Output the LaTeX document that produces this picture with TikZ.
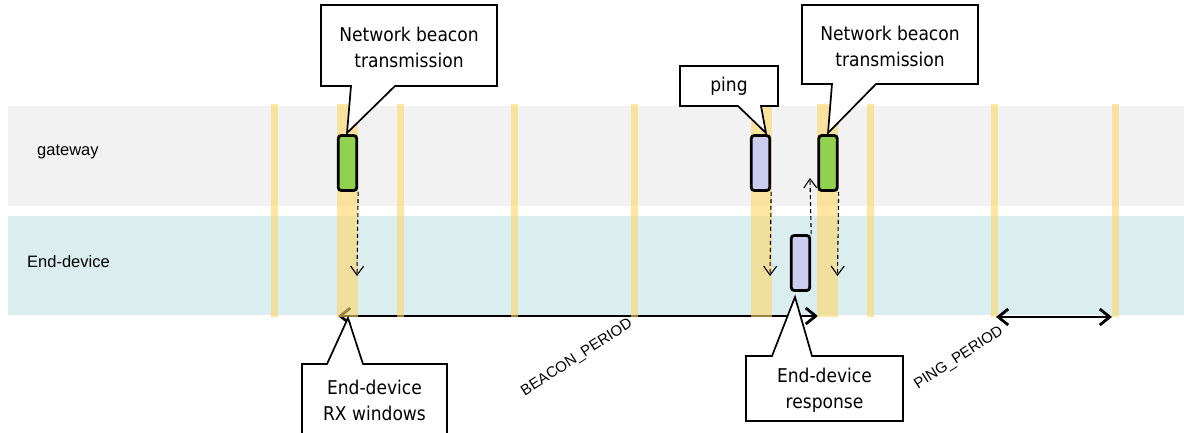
\documentclass[tikz,border=0pt]{standalone}
\usepackage{fontspec}
\setmainfont{Liberation Sans}
\newfontfamily\callfont{DejaVu Sans Condensed}
\usetikzlibrary{arrows.meta}
\definecolor{gwgrey}{RGB}{242,242,242}
\definecolor{edblue}{RGB}{218,237,239}
\definecolor{beacongreen}{RGB}{146,208,80}
\definecolor{pinglav}{RGB}{204,205,238}
\definecolor{baryellow}{RGB}{255,214,102}
\begin{document}
\begin{tikzpicture}[x=1pt,y=-1pt,
  bar/.style={fill=baryellow, fill opacity=0.6, draw=none},
  msg/.style={draw=black, line width=2.8pt, rounded corners=3pt, minimum width=18.5pt, minimum height=55pt, inner sep=0pt},
  callout/.style={draw=black, fill=white, line width=1.7pt, line join=miter},
  calltext/.style={font=\callfont\fontsize{19}{26}\selectfont, align=center, inner sep=0pt},
  dasharrow/.style={line width=1.1pt, dash pattern=on 4pt off 3pt, -{Straight Barb[length=9pt,width=13pt,line width=1.1pt]}},
  period/.style={line width=2.8pt, {Straight Barb[length=10pt,width=16pt]}-{Straight Barb[length=10pt,width=16pt]}},
  lane/.style={font=\fontsize{16.5}{19}\selectfont, anchor=west, inner sep=0pt},
  plabel/.style={font=\fontsize{15}{17}\selectfont, rotate=33, inner sep=0pt}
]
\useasboundingbox (0,0) rectangle (1184,432);
\clip (0,0) rectangle (1184,432);
% lanes
\fill[gwgrey] (8,106) rectangle (1184,206);
\fill[edblue] (8,216) rectangle (1184,315);
\node[lane] (gw) at (37,152) {gateway};
\node[lane] (ed) at (27,262) {End-device};
% beacon period arrow (below the bars)
\coordinate (bp1) at (338,316);
\coordinate (bp2) at (818,316);
\draw[period] (bp1) -- (bp2);
% slot bars
\foreach \x in {274,400,514,634,870,994,1115}{
  \fill[bar] (\x-3.5,104) rectangle (\x+3.5,317);
}
\fill[bar] (337,104) rectangle (358,317);
\fill[bar] (751,104) rectangle (772,317);
\fill[bar] (817,104) rectangle (838,317);
% message boxes
\node[msg, fill=beacongreen] (b1) at (347.5,163) {};
\node[msg, fill=pinglav] (p1) at (760.5,163) {};
\node[msg, fill=beacongreen] (b2) at (828,163) {};
\node[msg, fill=pinglav] (r1) at (800.5,263) {};
% dashed arrows
\coordinate (d1) at (357,276);
\coordinate (d2) at (770,276);
\coordinate (d3) at (837.5,276);
\coordinate (u1) at (810,178);
\draw[dasharrow] (b1.south east) -- (d1);
\draw[dasharrow] (p1.south east) -- (d2);
\draw[dasharrow] (b2.south east) -- (d3);
\draw[dasharrow] (r1.north east) -- (u1);
% ping period
\coordinate (pp1) at (996,317);
\coordinate (pp2) at (1112,317);
\draw[period] (pp1) -- (pp2);
% period labels
\node[plabel] (bpl) at (577,358) {BEACON\_PERIOD};
\node[plabel] (ppl) at (959,358) {PING\_PERIOD};
% callouts
\draw[callout] (321,5) -- (497,5) -- (497,86) -- (395,86) -- (347,133) -- (351,86) -- (321,86) -- cycle;
\node[calltext] (c1) at (409,47) {Network beacon\\transmission};
\draw[callout] (680,66) -- (778,66) -- (778,106) -- (761,106) -- (766,133) -- (738,106) -- (680,106) -- cycle;
\node[calltext] (c2) at (729,86) {ping};
\draw[callout] (802,5) -- (978,5) -- (978,84) -- (876,84) -- (828,133) -- (832,84) -- (802,84) -- cycle;
\node[calltext] (c3) at (890,46) {Network beacon\\transmission};
\draw[callout] (302,364) -- (327,364) -- (348,318) -- (363,364) -- (447,364) -- (447,445) -- (302,445) -- cycle;
\node[calltext] (c4) at (374.5,400) {End-device\\RX windows};
\draw[callout] (746,356) -- (772,356) -- (795,297) -- (812,356) -- (903,356) -- (903,421) -- (746,421) -- cycle;
\node[calltext] (c5) at (824.5,390) {End-device\\response};
\end{tikzpicture}
\end{document}
